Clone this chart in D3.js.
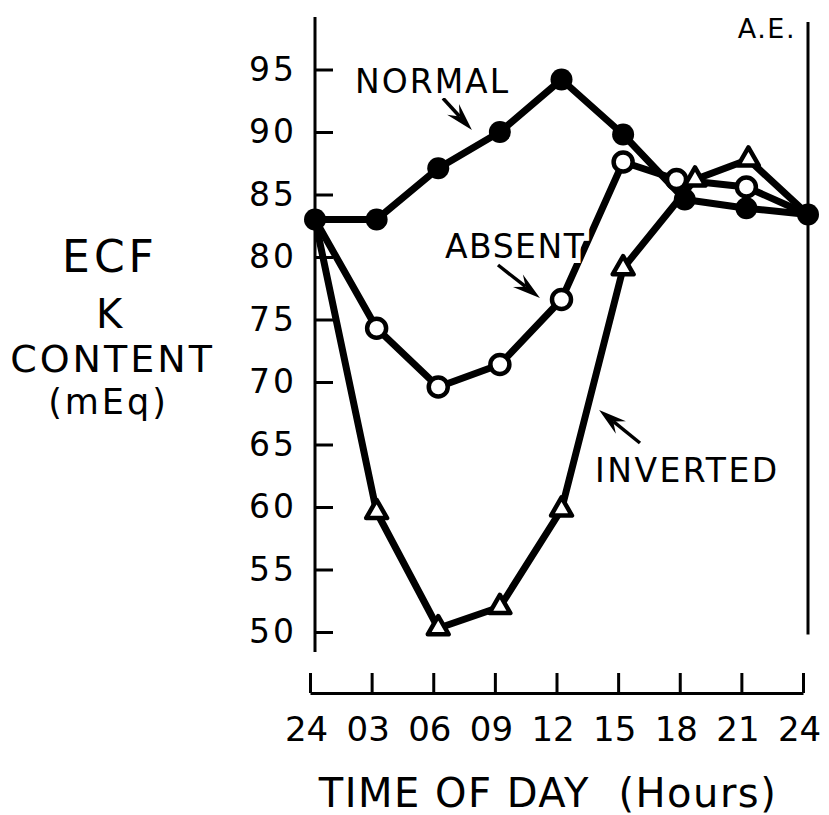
<!DOCTYPE html>
<html>
<head>
<meta charset="utf-8">
<script src="https://cdn.jsdelivr.net/npm/d3@7"></script>
<style>
  body { margin: 0; background: #fff; }
  text { font-family: "DejaVu Sans", sans-serif; fill: #000; }
</style>
</head>
<body>
<div id="container"></div>
<script>
// values (ECF K content, mEq)
var hours = [0, 3, 6, 9, 12, 15, 18, 21, 24];
var hourLabels = ["24", "03", "06", "09", "12", "15", "18", "21", "24"];
var yTicks = [50, 55, 60, 65, 70, 75, 80, 85, 90, 95];

var normalHours = [0, 3, 6, 9, 12, 15, 18, 21, 24];
var normal = [83, 83, 87.1, 90, 94.2, 89.8, 84.6, 83.9, 83.4];
var absentHours = [0, 3, 6, 9, 12, 15, 17.6, 21, 24];
var absent = [83, 74.3, 69.6, 71.4, 76.6, 87.6, 86.2, 85.6, 83.4];
var invertedHours = [0, 3, 6, 9, 12, 15, 18.5, 21.1, 24];
var inverted = [83, 59.6, 50.3, 52, 59.8, 79.1, 86.2, 87.8, 83.4];

// labels and arrows, in data units (hour, mEq)
var seriesNames = ["NORMAL", "ABSENT", "INVERTED"];
var labelAt = [[1.95, 93.1], [6.33, 79.9], [13.63, 62]];
var arrowTail = [[6.23, 92.7], [8.91, 79.36], [15.82, 65.12]];
var arrowTip = [[7.64, 90.16], [10.95, 76.72], [13.83, 67.76]];

var w = 829, h = 815;
var svg = d3.select("div#container").append("svg")
  .attr("width", w).attr("height", h)
  .style("background-color", "white");

var x = d3.scaleLinear().domain([0, 24]).range([315, 808]);
var y = d3.scaleLinear().domain([50, 95]).range([632, 69.5]);

// left axis: long vertical line, ticks pointing inward
svg.append("line")
  .attr("x1", x(0)).attr("x2", x(0))
  .attr("y1", y(99.2)).attr("y2", y(48.4))
  .attr("stroke", "#000").attr("stroke-width", 3);

var yAxis = svg.append("g")
  .attr("transform", "translate(" + x(0) + ",0)")
  .call(d3.axisLeft(y).tickValues(yTicks).tickSizeInner(-18).tickSizeOuter(0).tickPadding(18));
yAxis.select(".domain").remove();
yAxis.selectAll(".tick line").attr("stroke", "#000").attr("stroke-width", 3);
yAxis.selectAll(".tick text")
  .attr("font-size", 33).attr("letter-spacing", 3)
  .attr("font-family", "DejaVu Sans").attr("fill", "#000");

// right axis line (A.E.)
svg.append("line")
  .attr("x1", x(24)).attr("x2", x(24))
  .attr("y1", y(98.8)).attr("y2", y(49.8))
  .attr("stroke", "#000").attr("stroke-width", 3);

svg.append("text")
  .attr("x", x(24) - 12).attr("y", y(97.5))
  .attr("text-anchor", "end")
  .attr("font-size", 27).attr("letter-spacing", 1.5)
  .text("A.E.");

// bottom axis, separate baseline below the plot
var xAxis = svg.append("g")
  .attr("transform", "translate(-5," + (y(50) + 61) + ")")
  .call(d3.axisBottom(x).tickValues(hours)
    .tickFormat(function(d, i) { return hourLabels[i]; })
    .tickSizeInner(-20).tickSizeOuter(0).tickPadding(24));
xAxis.select(".domain").attr("stroke", "#000").attr("stroke-width", 3);
xAxis.selectAll(".tick line").attr("stroke", "#000").attr("stroke-width", 3);
xAxis.selectAll(".tick text")
  .attr("font-size", 34).attr("dx", -4)
  .attr("font-family", "DejaVu Sans").attr("fill", "#000");

svg.append("text")
  .attr("x", 548).attr("y", 807)
  .attr("text-anchor", "middle")
  .attr("font-size", 40).attr("letter-spacing", 1.5)
  .text("TIME OF DAY \u00a0(Hours)");

// y title
var ytitle = [["ECF", 108, 272, 44, 4], ["K", 109, 328, 40, 0], ["CONTENT", 111, 372, 38, 3], ["(mEq)", 107, 414, 35, 3]];
svg.selectAll("text.ytitle")
  .data(ytitle).enter().append("text")
  .attr("class", "ytitle")
  .attr("x", function(d) { return d[1] + d[4] / 2; })
  .attr("y", function(d) { return d[2]; })
  .attr("text-anchor", "middle")
  .attr("font-size", function(d) { return d[3]; })
  .attr("letter-spacing", function(d) { return d[4]; })
  .text(function(d) { return d[0]; });

// lines
var line = d3.line().x(function(d) { return x(d[0]); }).y(function(d) { return y(d[1]); });
var series = [
  d3.zip(normalHours, normal),
  d3.zip(absentHours, absent),
  d3.zip(invertedHours, inverted)
];

svg.append("g").selectAll("path")
  .data([series[2], series[1], series[0]])
  .enter().append("path")
  .attr("d", line)
  .attr("fill", "none")
  .attr("stroke", "#000")
  .attr("stroke-width", 7)
  .attr("stroke-linejoin", "round");

// markers
svg.append("g").selectAll("path")
  .data(series[2].slice(1, -1))
  .enter().append("path")
  .attr("transform", function(d) { return "translate(" + x(d[0]) + "," + y(d[1]) + ")"; })
  .attr("d", d3.symbol(d3.symbolTriangle).size(190))
  .attr("fill", "#fff").attr("stroke", "#000").attr("stroke-width", 4.5)
  .attr("stroke-linejoin", "round");

svg.append("g").selectAll("circle")
  .data(series[1].slice(1, -1))
  .enter().append("circle")
  .attr("cx", function(d) { return x(d[0]); })
  .attr("cy", function(d) { return y(d[1]); })
  .attr("r", 9.5)
  .attr("fill", "#fff").attr("stroke", "#000").attr("stroke-width", 4.5);

svg.append("g").selectAll("circle")
  .data(series[0])
  .enter().append("circle")
  .attr("cx", function(d) { return x(d[0]); })
  .attr("cy", function(d) { return y(d[1]); })
  .attr("r", 11)
  .attr("fill", "#000");

// arrows
seriesNames.forEach(function(name, i) {
  var x0 = x(arrowTail[i][0]), y0 = y(arrowTail[i][1]);
  var x1 = x(arrowTip[i][0]), y1 = y(arrowTip[i][1]);
  var len = Math.hypot(x1 - x0, y1 - y0);
  var ux = (x1 - x0) / len, uy = (y1 - y0) / len;
  var hl = Math.min(28, len * 0.75), hw = 8;
  var bx = x1 - ux * hl, by = y1 - uy * hl;
  var nx = x1 - ux * hl * 0.65, ny = y1 - uy * hl * 0.65;
  svg.append("line")
    .attr("x1", x0).attr("y1", y0).attr("x2", nx).attr("y2", ny)
    .attr("stroke", "#000").attr("stroke-width", 3.5);
  svg.append("path")
    .attr("d", "M" + x1 + "," + y1 +
      "L" + (bx - uy * hw) + "," + (by + ux * hw) +
      "L" + nx + "," + ny +
      "L" + (bx + uy * hw) + "," + (by - ux * hw) + "Z")
    .attr("fill", "#000");
});

// series labels, with a white halo so lines break behind them
svg.append("g").selectAll("text")
  .data(seriesNames)
  .enter().append("text")
  .attr("x", function(d, i) { return x(labelAt[i][0]); })
  .attr("y", function(d, i) { return y(labelAt[i][1]); })
  .attr("font-size", 33)
  .attr("letter-spacing", function(d, i) { return [2, 1.5, 2.5][i]; })
  .attr("stroke", "#fff").attr("stroke-width", 10)
  .attr("paint-order", "stroke")
  .text(function(d) { return d; });
</script>
</body>
</html>
